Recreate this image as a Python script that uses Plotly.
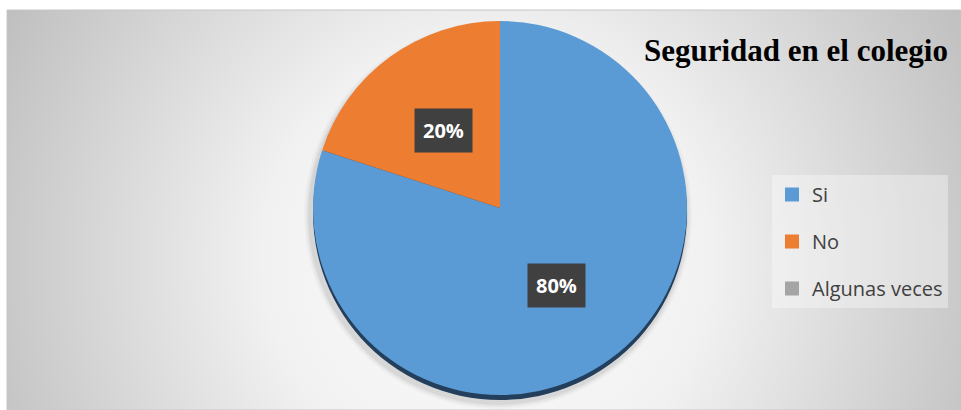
import base64
import math
import plotly.graph_objects as go

labels = ["Si", "No", "Algunas veces"]
values = [80, 20, 0]
colors = ["#5b9bd5", "#ed7d31", "#a5a5a5"]
title_text = "Seguridad en el colegio"

W, H = 961, 410
# pie placement in pixels
cx, cy, r = 500, 208, 187


def dom_x(c, rad):
    return [max(0, (c - rad) / W), min(1, (c + rad) / W)]


def dom_y(c, rad):
    return [max(0, 1 - (c + rad) / H), min(1, 1 - (c - rad) / H)]


# radial gradient background as an svg image
svg = (
    '<svg xmlns="http://www.w3.org/2000/svg" width="954" height="400" viewBox="0 0 954 400" preserveAspectRatio="none">'
    '<defs><radialGradient id="g" gradientUnits="userSpaceOnUse" cx="480" cy="250" r="560">'
    '<stop offset="0" stop-color="#fdfdfd"/><stop offset="0.4" stop-color="#f1f1f1"/>'
    '<stop offset="1" stop-color="#bcbcbc"/></radialGradient></defs>'
    '<rect width="954" height="400" fill="url(#g)"/></svg>'
)
bg_src = "data:image/svg+xml;base64," + base64.b64encode(svg.encode()).decode()

fig = go.Figure()

# soft shadow + dark rim under the pie
for grow, col in [(7, "rgba(0,0,0,0.025)"), (5, "rgba(0,0,0,0.04)"), (3, "rgba(0,0,0,0.06)")]:
    fig.add_trace(go.Pie(
        values=values, labels=labels, sort=False, direction="clockwise",
        domain=dict(x=dom_x(cx - 2, r + grow), y=dom_y(cy + 7, r + grow)),
        marker=dict(colors=[col] * 3, line=dict(width=0)),
        textinfo="none", hoverinfo="skip", showlegend=False,
    ))
fig.add_trace(go.Pie(
    values=values, labels=labels, sort=False, direction="clockwise",
    domain=dict(x=dom_x(cx, r), y=dom_y(cy + 5, r)),
    marker=dict(colors=["#233f5c"] * 3, line=dict(width=0)),
    textinfo="none", hoverinfo="skip", showlegend=False,
))

fig.add_trace(go.Pie(
    values=values, labels=labels, sort=False, direction="clockwise",
    domain=dict(x=dom_x(cx, r), y=dom_y(cy, r)),
    marker=dict(colors=colors, line=dict(width=0)),
    textinfo="none", showlegend=False,
))

# legend built from dummy traces so items can be spaced out
for lab, col in zip(labels, colors):
    fig.add_trace(go.Scatter(
        x=[None], y=[None], mode="markers", name=lab, legendgroup=lab,
        marker=dict(symbol="square", size=14, color=col),
    ))

# percentage labels in dark boxes
total = sum(values)
cum = 0
for v in values:
    if v > 0:
        ang = 2 * math.pi * (cum + v / 2) / total
        px = cx + 0.51 * r * math.sin(ang)
        py = cy - 0.51 * r * math.cos(ang)
        fig.add_annotation(
            x=px / W, y=1 - py / H, xref="paper", yref="paper",
            xanchor="center", yanchor="middle",
            text="<b>%d%%</b>" % round(100 * v / total), showarrow=False,
            font=dict(family="Open Sans", size=20, color="white"),
            bgcolor="#404040", borderpad=8,
        )
    cum += v

fig.add_annotation(
    x=950 / W, y=1 - 50 / H, xref="paper", yref="paper", xanchor="right", yanchor="middle",
    text="<b>" + title_text + "</b>", showarrow=False,
    font=dict(family="Liberation Serif", size=31, color="black"),
)

fig.update_layout(
    width=W, height=H,
    margin=dict(l=0, r=0, t=0, b=0),
    paper_bgcolor="white", plot_bgcolor="rgba(0,0,0,0)",
    xaxis=dict(visible=False), yaxis=dict(visible=False),
    images=[dict(source=bg_src, xref="paper", yref="paper", x=7 / W, y=1 - 10 / H,
                 sizex=954 / W, sizey=400 / H, sizing="stretch", layer="below",
                 xanchor="left", yanchor="top")],
    shapes=[dict(type="rect", xref="paper", yref="paper", x0=7 / W, x1=1, y0=0, y1=1 - 10 / H,
                 line=dict(color="#c6c6c6", width=1), layer="below")],
    legend=dict(x=772 / W, y=1 - 175 / H, xanchor="left", yanchor="top",
                bgcolor="rgba(255,255,255,0.35)", font=dict(family="Open Sans", size=20, color="#404040"),
                tracegroupgap=18, traceorder="grouped", itemclick=False, itemwidth=30),
    showlegend=True,
)

fig.write_html("out.html", config={"displayModeBar": False},
               post_script="document.body.style.margin='0';")
